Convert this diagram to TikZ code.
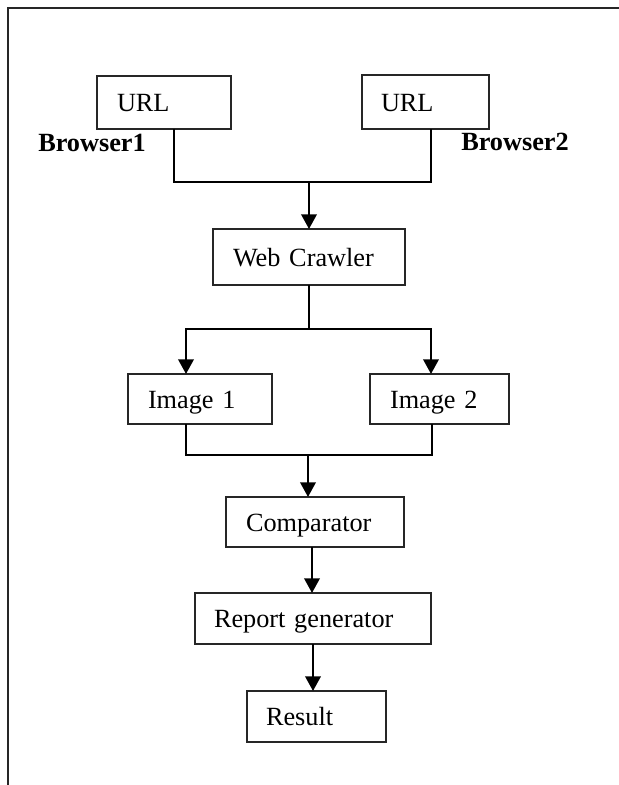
\documentclass[tikz,border=0pt]{standalone}
\usepackage{fontspec}
\setmainfont{Liberation Serif}
\usetikzlibrary{arrows.meta,calc}

% A left-aligned box: name, x1, y1, x2, y2 (top-left / bottom-right), left padding, text
\newcommand{\flowbox}[7]{%
  \pgfmathsetmacro\fbw{(#4-#2-2*#6)*0.75}%
  \pgfmathsetmacro\fbh{(#5-#3)*0.75}%
  \pgfmathsetmacro\fbp{#6*0.75}%
  \node[box, text width=\fbw pt, inner xsep=\fbp pt, minimum height=\fbh pt] (#1) at (#2,#3) {#7};}

\begin{document}
\begin{tikzpicture}[x=0.75pt,y=-0.75pt,
  box/.style={draw=black!85, line width=0.8pt, anchor=north west, align=left,
              inner ysep=0pt, outer sep=0pt, text height=13.5pt, text depth=0pt,
              font=\fontsize{19.7}{23}\selectfont},
  conn/.style={line width=1.5pt},
  arr/.style={line width=1.9pt, -{Triangle[length=11pt,width=11.5pt]}},
  tag/.style={font=\fontsize{19.7}{23}\selectfont\bfseries, anchor=base west, inner sep=0pt}]

\useasboundingbox (0,0) rectangle (618,785);

% page frame (top and left edges)
\draw[line width=1.5pt, black!85] (620,8) -| (8,787);

% boxes
\flowbox{u1}{97}{76}{231}{129}{20}{URL}
\flowbox{u2}{362}{75}{489}{129}{19}{URL}
\flowbox{wc}{213}{229}{405}{285}{20}{Web Crawler}
\flowbox{i1}{128}{374}{272}{424}{20}{Image 1}
\flowbox{i2}{370}{374}{509}{424}{20}{Image 2}
\flowbox{cmp}{226}{497}{404}{547}{20}{Comparator}
\flowbox{rep}{195}{593}{431}{644}{19}{Report generator}
\flowbox{res}{247}{691}{386}{742}{19}{Result}

% browser labels
\node[tag] (b1) at (38,151) {Browser1};
\node[tag] (b2) at (461,150) {Browser2};

% both URLs join and feed the crawler
\coordinate (join) at (309,182);
\draw[conn] ($(u1.south west)+(77,0)$) |- (join) -| ($(u2.south west)+(69,0)$);
\draw[arr] (join) -- (join |- wc.north);

% crawler splits into two images
\coordinate (split) at (309,329);
\draw[conn] (wc.south) -- (split);
\draw[arr] (split) -| ($(i1.north west)+(58,0)$);
\draw[arr] (split) -| ($(i2.north west)+(61,0)$);

% images merge into the comparator
\coordinate (merge) at (308,455);
\draw[conn] ($(i1.south west)+(58,0)$) |- (merge) -| ($(i2.south west)+(62,0)$);
\draw[arr] (merge) -- (merge |- cmp.north);

% comparator -> report generator -> result
\coordinate (cout) at ($(cmp.south)+(-3,0)$);
\draw[arr] (cout) -- (cout |- rep.north);
\draw[arr] (rep.south) -- (rep.south |- res.north);
\end{tikzpicture}
\end{document}
